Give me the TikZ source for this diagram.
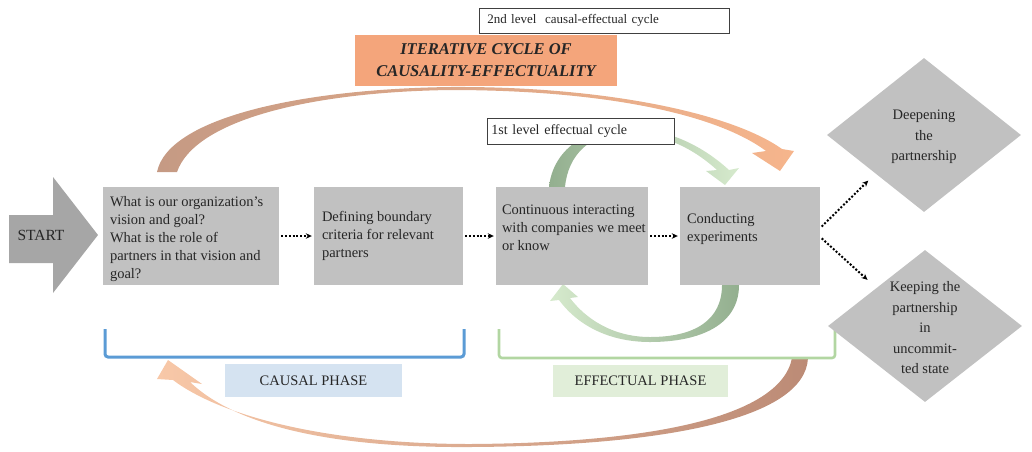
\documentclass[tikz,border=0pt]{standalone}
\usepackage{fontspec}
\setmainfont{Liberation Serif}
\usetikzlibrary{shapes.geometric,arrows.meta}

\definecolor{boxgray}{HTML}{C1C1C1}
\definecolor{startgray}{HTML}{A6A6A6}
\definecolor{inktext}{HTML}{262626}
\definecolor{titleorange}{HTML}{F4A57B}
\definecolor{arcbrown}{HTML}{C59A84}
\definecolor{arcorange}{HTML}{F6B58C}
\definecolor{arcbrownb}{HTML}{BC8B76}
\definecolor{arcpeach}{HTML}{F8C8A8}
\definecolor{greendark}{HTML}{93AF8F}
\definecolor{greenlight}{HTML}{D6EACD}
\definecolor{causalblue}{HTML}{5B9BD5}
\definecolor{causalfill}{HTML}{D5E3F1}
\definecolor{effgreen}{HTML}{B2D6A2}
\definecolor{efffill}{HTML}{E1EED9}
\definecolor{labelframe}{HTML}{404040}

\begin{document}
\begin{tikzpicture}[x=1pt,y=-1pt,
  stepbox/.style={fill=boxgray, inner sep=0pt, minimum height=98pt},
  boxtext/.style={anchor=west, align=left, inner sep=0pt, text=inktext,
    font=\fontsize{14.5}{18}\selectfont},
  decision/.style={diamond, fill=boxgray, inner sep=0pt,
    minimum width=194pt, minimum height=154pt},
  decisiontext/.style={align=center, inner sep=0pt, text=inktext,
    font=\fontsize{14.5}{20.5}\selectfont},
  cyclelabel/.style={draw=labelframe, line width=0.8pt, fill=white,
    inner ysep=0pt, anchor=west, text=inktext},
  phaselabel/.style={inner sep=0pt, text=inktext,
    font=\fontsize{14.5}{16}\selectfont},
  dotconn/.style={line width=2pt, dash pattern=on 2pt off 1.8pt,
    shorten <=2pt, shorten >=2pt, -{Stealth[length=6pt,width=5.5pt]}}
]
\useasboundingbox (0,0) rectangle (1032,451);

% second-level causal-effectual loop (top swoosh)
\shade[left color=arcbrown, right color=arcorange]
  (157,172) .. controls (168,118) and (300,89) .. (450,87)
  .. controls (600,86) and (730,112) .. (782,149)
  -- (794,151) -- (780,171) -- (752,153) -- (766,151)
  .. controls (715,113) and (600,90) .. (450,90)
  .. controls (310,92) and (195,120) .. (177,172) -- cycle;

% second-level loop returning underneath
\shade[left color=arcpeach, right color=arcbrownb]
  (808,358) .. controls (805,420) and (660,446) .. (470,447)
  .. controls (330,448) and (235,425) .. (190,382)
  -- (202,384) -- (168,360) -- (157,379) -- (173,380)
  .. controls (222,417) and (330,444) .. (470,444)
  .. controls (640,443) and (780,420) .. (792,358) -- cycle;

% first-level effectual loop, upper half
\shade[left color=greendark, right color=greenlight]
  (549,187) .. controls (553,150) and (585,128) .. (625,128)
  .. controls (670,128) and (705,148) .. (729,170)
  -- (739,168) -- (725,185) -- (706,171) -- (717,170)
  .. controls (695,150) and (665,133) .. (625,133)
  .. controls (590,133) and (568,155) .. (565,187) -- cycle;

% first-level effectual loop, lower half
\shade[left color=greenlight, right color=greendark]
  (739,285) .. controls (739,325) and (700,342) .. (650,342)
  .. controls (605,342) and (575,322) .. (559,300)
  -- (550,301) -- (563,284) -- (578,297) -- (570,298)
  .. controls (585,318) and (612,337) .. (650,337)
  .. controls (695,337) and (722,320) .. (722,285) -- cycle;

% phase brackets
\draw[causalblue, line width=3pt, rounded corners=3pt]
  (105,329) -- (105,357) -- (464,357) -- (464,329);
\draw[effgreen, line width=2.6pt, rounded corners=3pt]
  (499,329) -- (499,358) -- (835,358) -- (835,329);

% start arrow
\fill[startgray] (9,215) -- (53,215) -- (53,177) -- (98,235)
  -- (53,293) -- (53,263) -- (9,263) -- cycle;
\node[inner sep=0pt, text=inktext, font=\fontsize{15.5}{18}\selectfont]
  (start) at (41,235) {START};

% process steps
\node[stepbox, minimum width=176pt] (b1) at (191,236) {};
\node[stepbox, minimum width=149pt] (b2) at (388.5,236) {};
\node[stepbox, minimum width=152pt] (b3) at (572,236) {};
\node[stepbox, minimum width=140pt] (b4) at (750,236) {};

\node[boxtext] (b1t) at ([xshift=7pt,yshift=-3pt]b1.west)
  {What is our organization’s\\vision and goal?\\What is the role of\\partners in that vision and\\goal?};
\node[boxtext] (b2t) at ([xshift=8pt]b2.west)
  {Defining boundary\\criteria for relevant\\partners};
\node[boxtext] (b3t) at ([xshift=6pt,yshift=8pt]b3.west)
  {Continuous interacting\\with companies we meet\\or know};
\node[boxtext] (b4t) at ([xshift=7pt,yshift=7pt]b4.west)
  {Conducting\\experiments};

% outcomes
\node[decision] (d1) at (924,135) {};
\node[decision, minimum height=152pt] (d2) at (925,326) {};
\node[decisiontext] (d1t) at ([yshift=-2pt]d1.center) {Deepening\\the\\partnership};
\node[decisiontext] (d2t) at ([yshift=-2pt]d2.center) {Keeping the\\partnership\\in\\uncommit-\\ted state};

% flow connectors
\draw[dotconn] (b1.east) -- (b2.west);
\draw[dotconn] (b2.east) -- (b3.west);
\draw[dotconn] (b3.east) -- (b4.west);
\draw[dotconn, shorten >=10pt] ([yshift=8pt]b4.east) -- (d1.south west);
\draw[dotconn, shorten >=12pt] ([yshift=-1pt]b4.east) -- (d2.north west);

% headings
\node[fill=titleorange, minimum width=262pt, minimum height=51pt, inner sep=0pt,
  align=center, text=inktext,
  font=\fontsize{16.5}{22}\selectfont\bfseries\itshape] (title) at (486,60.5)
  {ITERATIVE CYCLE OF\\CAUSALITY-EFFECTUALITY};
\node[cyclelabel, inner xsep=8pt, minimum width=250pt, minimum height=25pt,
  text width=234pt, font=\fontsize{13}{15}\selectfont] (lvl2) at (479,20.5)
  {2nd level\ \ causal-effectual cycle};
\node[cyclelabel, inner xsep=4pt, minimum width=187pt, minimum height=26pt,
  text width=179pt, font=\fontsize{14}{16}\selectfont] (lvl1) at (487,131)
  {1st level effectual cycle};

% phase labels
\node[phaselabel, fill=causalfill, minimum width=177pt, minimum height=33pt]
  (causal) at (313.5,380.5) {CAUSAL PHASE};
\node[phaselabel, fill=efffill, minimum width=175pt, minimum height=32pt]
  (effectual) at (640.5,381) {EFFECTUAL PHASE};
\end{tikzpicture}
\end{document}
